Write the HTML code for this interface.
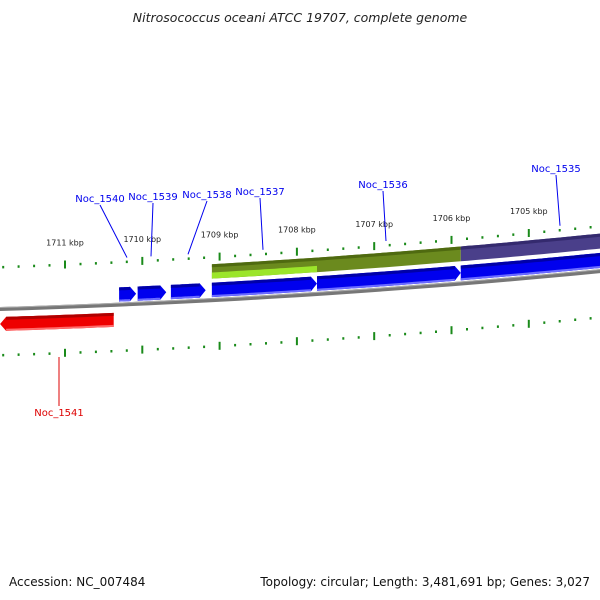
<!DOCTYPE html>
<html><head><meta charset="utf-8"><style>
body{margin:0;background:#fff}
svg{display:block;font-family:"DejaVu Sans","Liberation Sans",sans-serif}
</style></head><body>
<svg id="chart" width="600" height="600" viewBox="0 0 600 600">
<text x="300" y="22" text-anchor="middle" font-size="12.5" font-style="italic" fill="#222">Nitrosococcus oceani ATCC 19707, complete genome</text>
<text x="9" y="586" font-size="12" fill="#111">Accession: NC_007484</text>
<text x="590" y="586" text-anchor="end" font-size="12" fill="#111">Topology: circular; Length: 3,481,691 bp; Genes: 3,027</text>
<g id="layer"></g>
</svg>
<script>
// data
const geneNames = ["Noc_1541","Noc_1540","Noc_1539","Noc_1538","Noc_1537","Noc_1536","Noc_1535"];
const geneStart = [1711.84,1710.30,1710.06,1709.63,1709.10,1707.74,1705.88];
const geneEnd   = [1710.37,1710.08,1709.69,1709.18,1707.74,1705.88,1703.9];
const geneStrand = [-1,1,1,1,1,1,1];
const tickKbp = [1711,1710,1709,1708,1707,1706,1705];
const tickLabels = ["1711 kbp","1710 kbp","1709 kbp","1708 kbp","1707 kbp","1706 kbp","1705 kbp"];
const blockStart = [1709.10,1705.88];
const blockEnd   = [1705.88,1703.9];
const blockColors = ["#6b8a1e","#4a3f8a"];

const NS="http://www.w3.org/2000/svg";
const layer=document.getElementById('layer');
function X(kbp){return 65+(1711-kbp)*77.3;}
function yb(x){return 309-0.03*x-0.000055*x*x;}
function Y(x,off){return yb(x)+(off<0?off*(1+x/8000):off);}
function mk(tag,attrs){const e=document.createElementNS(NS,tag);for(const k in attrs)e.setAttribute(k,attrs[k]);layer.appendChild(e);return e;}
function band(x1,x2,o1,o2){const pts=[];for(let i=0;i<=20;i++){const x=x1+(x2-x1)*i/20;pts.push(x.toFixed(1)+","+Y(x,o1).toFixed(1));}
 for(let i=20;i>=0;i--){const x=x1+(x2-x1)*i/20;pts.push(x.toFixed(1)+","+Y(x,o2).toFixed(1));}return pts.join(" ");}

// backbone
let bb=mk('polygon',{points:band(-5,605,-2,2),fill:'#777'});


mk('polygon',{points:band(-5,605,-2,-1),fill:'#aaa'});

// blocks
for(let i=0;i<blockStart.length;i++){
 const x1=X(blockStart[i]),x2=Math.min(X(blockEnd[i]),610);
 const b=mk('polygon',{points:band(x1,x2,-35,-21),fill:blockColors[i]});
 
 
 mk('polygon',{points:band(x1,x2,-35,-32),fill:i==0?'#4f6a10':'#342a6e'});
}
// lime sub-block
{const x1=X(1709.10),x2=X(1707.74);
 const b=mk('polygon',{points:band(x1,x2,-27,-21),fill:'#9be52a'});
 
 }

// ticks
function tickRow(off,rowName){
 for(let k=1712;k>=1703.8;k-=0.2){const kk=Math.round(k*10)/10;const x=X(kk);if(x<0||x>600)continue;
  const major=Math.abs(kk-Math.round(kk))<0.01;const y=Y(x,off);
  const t=mk('rect',{x:(x-1).toFixed(1),y:(major?y-4:y-1).toFixed(1),width:2,height:major?8:2.5,fill:'#1a8a1a'});
  
  }
}
tickRow(-42,'upper-tick');
tickRow(46,'lower-tick');
for(let i=0;i<tickKbp.length;i++){const x=X(tickKbp[i]);
 const t=mk('text',{x:x.toFixed(1),y:(Y(x,-42)-19).toFixed(1),'text-anchor':'middle','font-size':'8',fill:'#222'});
 t.textContent=tickLabels[i];
 
 }

// genes
const labelPos=[[59,416],[100,202],[153,200],[207,198],[260,195],[383,188],[556,172]];
for(let i=0;i<geneNames.length;i++){
 let x1=X(geneStart[i]),x2=X(geneEnd[i]);
 const fwd=geneStrand[i]>0;
 const o1=fwd?-17:8,o2=fwd?-3:22,mid=(o1+o2)/2;
 const head=6;const pts=[];
 const xe=Math.min(x2,620);
 if(fwd){
  const b=xe-head;
  for(let j=0;j<=20;j++){const x=x1+(b-x1)*j/20;pts.push(x+","+Y(x,o1));}
  pts.push(xe+","+Y(xe,mid));
  for(let j=20;j>=0;j--){const x=x1+(b-x1)*j/20;pts.push(x+","+Y(x,o2));}
 }else{
  const xs=Math.max(Math.min(x1,x2),-2),xr=Math.max(x1,x2),b=xs+head;
  pts.push(xs+","+Y(xs,mid));
  for(let j=0;j<=20;j++){const x=b+(xr-b)*j/20;pts.push(x+","+Y(x,o1));}
  for(let j=20;j>=0;j--){const x=b+(xr-b)*j/20;pts.push(x+","+Y(x,o2));}
 }
 const g=mk('polygon',{points:pts.join(" "),fill:fwd?'#0000ee':'#ee0000'});
 
 
 const lo=Math.min(x1,x2)+(fwd?0:head),hi=Math.max(x1,x2)-(fwd?head:0);
 mk('polygon',{points:band(Math.max(lo,-2),Math.min(hi,620),o1,o1+3),fill:fwd?'#0000a8':'#b00000'});
 mk('polygon',{points:band(Math.max(lo,-2),Math.min(hi,620),o2-2,o2),fill:fwd?'#6a6aff':'#ff6a6a'});
 // label
 const [lx,ly]=labelPos[i];const col=fwd?'#0000ee':'#dd0000';
 const gc=Math.max(Math.min((x1+x2)/2,560),0);
 let tx=fwd?gc:lx, ty=fwd?Y(gc,-45):Y(lx,50);
 if(i==1)tx=127;if(i==2)tx=151;if(i==3)tx=188;if(i==4)tx=263;if(i==5)tx=386;if(i==6)tx=560;
 if(fwd)ty=Y(tx,-46);
 const ln=mk('line',{x1:lx,y1:fwd?ly+3:ly-10,x2:tx,y2:ty,stroke:col,'stroke-width':1});
 
 
 const t=mk('text',{x:lx,y:ly,'text-anchor':'middle','font-size':'10',fill:col});
 t.textContent=geneNames[i];
 
 
}
</script>
</body></html>
